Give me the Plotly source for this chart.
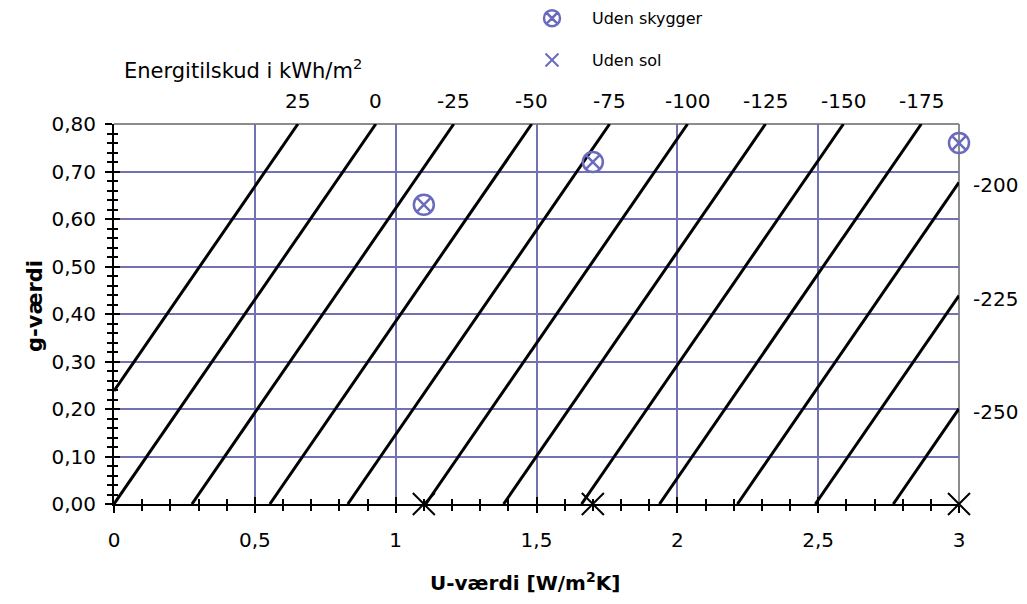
import plotly.graph_objects as go

# Annual energy balance of glazing: E = S_SOLAR * g - D_LOSS * U  [kWh/m2]
S_SOLAR = 105.0    # solar gain per unit g-value
D_LOSS = 90.36     # heat loss per unit U-value

# Iso-lines of constant energy gain
energy_levels = [25, 0, -25, -50, -75, -100, -125, -150, -175, -200, -225, -250]

# Glazing examples
u_values = [1.1, 1.7, 3.0]
g_values = [0.63, 0.72, 0.76]
g_no_sun = [0.0, 0.0, 0.0]

U_MIN, U_MAX = 0.0, 3.0
G_MIN, G_MAX = 0.0, 0.8

x_ticks = [0, 0.5, 1, 1.5, 2, 2.5, 3]
y_ticks = [0.0, 0.1, 0.2, 0.3, 0.4, 0.5, 0.6, 0.7, 0.8]

FONT = "DejaVu Sans, Verdana, sans-serif"
GRID = "#7272B2"
MARK = "#6B6BBE"
BORDER = "#8C8C8C"

fig = go.Figure()
annotations = []


def g_at(E, U):
    return (E + D_LOSS * U) / S_SOLAR


def u_at(E, g):
    return (S_SOLAR * g - E) / D_LOSS


for E in energy_levels:
    # clip the iso-line to the plotting box
    u0 = u_at(E, G_MIN)
    if u0 < U_MIN:
        p0 = (U_MIN, g_at(E, U_MIN))
    else:
        p0 = (u0, G_MIN)
    u1 = u_at(E, G_MAX)
    if u1 > U_MAX:
        p1 = (U_MAX, g_at(E, U_MAX))
        annotations.append(dict(x=p1[0], y=p1[1], xref="x", yref="y", text=str(E),
                                showarrow=False, xanchor="left", yanchor="middle",
                                xshift=12, yshift=-3,
                                font=dict(family=FONT, size=20, color="black")))
    else:
        p1 = (u1, G_MAX)
        annotations.append(dict(x=p1[0], y=p1[1], xref="x", yref="y", text=str(E),
                                showarrow=False, xanchor="center", yanchor="bottom",
                                yshift=9,
                                font=dict(family=FONT, size=20, color="black")))
    fig.add_trace(go.Scatter(x=[p0[0], p1[0]], y=[p0[1], p1[1]], mode="lines",
                             line=dict(color="black", width=3),
                             showlegend=False, hoverinfo="skip"))

# glazing without shading
fig.add_trace(go.Scatter(x=u_values, y=g_values, mode="markers", name="Uden skygger",
                         legendgroup="a", cliponaxis=False,
                         marker=dict(symbol="circle-x-open", size=20, color=MARK,
                                     line=dict(width=2.5, color=MARK))))
# glazing without sun (g = 0)
fig.add_trace(go.Scatter(x=u_values, y=g_no_sun, mode="markers", showlegend=False,
                         cliponaxis=False,
                         marker=dict(symbol="x-thin-open", size=22, color="black",
                                     line=dict(width=2, color="black"))))
fig.add_trace(go.Scatter(x=[None], y=[None], mode="markers", name="Uden sol",
                         legendgroup="b",
                         marker=dict(symbol="x-thin-open", size=13, color=MARK,
                                     line=dict(width=2, color=MARK))))

annotations += [
    dict(x=0.0095, y=1.145, xref="paper", yref="paper", xanchor="left", yanchor="middle",
         text="Energitilskud i kWh/m<sup>2</sup>", showarrow=False,
         font=dict(family=FONT, size=21, color="black")),
    dict(x=0.486, y=-0.205, xref="paper", yref="paper", xanchor="center", yanchor="middle",
         text="<b>U-værdi [W/m<sup>2</sup>K]</b>", showarrow=False,
         font=dict(family=FONT, size=20, color="black")),
    dict(x=-0.0935, y=0.521, xref="paper", yref="paper", xanchor="center", yanchor="middle",
         text="<b>g-værdi</b>", textangle=-90, showarrow=False,
         font=dict(family=FONT, size=21, color="black")),
]

axis_common = dict(showline=True, linecolor="black", linewidth=2, zeroline=False)

fig.update_layout(
    width=1027, height=604, autosize=False,
    margin=dict(l=114, r=68, t=124, b=100, autoexpand=False),
    paper_bgcolor="white", plot_bgcolor="white",
    separators=",.",
    font=dict(family=FONT, size=20, color="black"),
    xaxis=dict(range=[U_MIN, U_MAX], tickvals=x_ticks, ticks="outside", ticklen=7,
               tickwidth=2, tickcolor="black", showgrid=True, gridcolor=GRID, gridwidth=1.5,
               tickfont=dict(family=FONT, size=20), ticklabelstandoff=10,
               minor=dict(dtick=0.1, ticks="outside", ticklen=5, tickwidth=1.5,
                          tickcolor="black", showgrid=False),
               **axis_common),
    xaxis2=dict(range=[U_MIN, U_MAX], overlaying="x", anchor="y", side="bottom",
                tickvals=x_ticks, ticks="inside", ticklen=7, tickwidth=2, tickcolor="black",
                showticklabels=False, showgrid=False, showline=False, zeroline=False,
                minor=dict(dtick=0.1, ticks="inside", ticklen=5, tickwidth=1.5,
                           tickcolor="black", showgrid=False)),
    yaxis=dict(range=[G_MIN, G_MAX], tickvals=y_ticks, tickformat=".2f", ticks="outside",
               ticklen=7, tickwidth=2, tickcolor="black", showgrid=True, gridcolor=GRID,
               gridwidth=1.5, tickfont=dict(family=FONT, size=20), ticklabelstandoff=5,
               minor=dict(dtick=0.02, ticks="outside", ticklen=5, tickwidth=1.5,
                          tickcolor="black", showgrid=False),
               **axis_common),
    yaxis2=dict(range=[G_MIN, G_MAX], overlaying="y", anchor="x", side="left",
                tickvals=y_ticks, ticks="inside", ticklen=6, tickwidth=2, tickcolor="black",
                showticklabels=False, showgrid=False, showline=False, zeroline=False,
                minor=dict(dtick=0.02, ticks="inside", ticklen=4, tickwidth=1.5,
                           tickcolor="black", showgrid=False)),
    legend=dict(x=0.471, y=1.323, xanchor="left", yanchor="top", traceorder="grouped",
                tracegroupgap=18, itemwidth=70, bgcolor="rgba(0,0,0,0)",
                font=dict(family=FONT, size=16, color="black")),
    annotations=annotations,
    shapes=[
        dict(type="line", xref="paper", yref="paper", x0=0, x1=1, y0=1, y1=1,
             line=dict(color=BORDER, width=2), layer="between"),
        dict(type="line", xref="paper", yref="paper", x0=1, x1=1, y0=0, y1=1,
             line=dict(color=BORDER, width=2), layer="between"),
    ],
)

# invisible helper trace carrying the inside tick marks
fig.add_trace(go.Scatter(x=[None], y=[None], xaxis="x2", yaxis="y2", showlegend=False,
                         hoverinfo="skip"))

fig.write_html("out.html")
